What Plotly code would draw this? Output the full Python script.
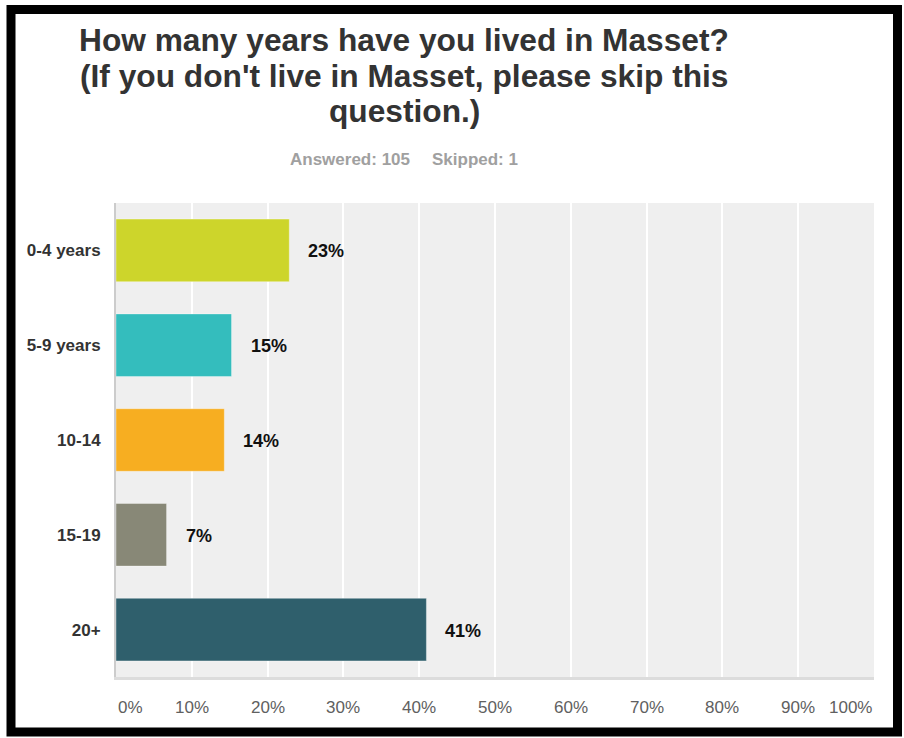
import plotly.graph_objects as go

# survey answers
categories = ["0-4 years", "5-9 years", "10-14", "15-19", "20+"]
percents = [22.86, 15.24, 14.29, 6.67, 40.95]
bar_labels = ["23%", "15%", "14%", "7%", "41%"]
colors = ["#cdd52b", "#34bdbd", "#f7ae21", "#888877", "#2f5f6c"]
tick_vals = [0, 10, 20, 30, 40, 50, 60, 70, 80, 90, 100]
tick_text = ["0%", "10%", "20%", "30%", "40%", "50%", "60%", "70%", "80%", "90%", "100%"]
title_lines = ["How many years have you lived in Masset?",
               "(If you don't live in Masset, please skip this",
               "question.)"]

W, H = 904, 738
ml, mr, mt, mb = 116, 30, 203, 61
pw, ph = W - ml - mr, H - mt - mb


def px_x(px):
    return (px - ml) / pw


def px_y(py):
    return (H - mb - py) / ph


FONT = "Liberation Sans, Arial"

fig = go.Figure()
fig.add_trace(go.Bar(
    y=categories, x=percents, orientation="h",
    marker=dict(color=colors, line=dict(color="rgba(255,255,255,0.35)", width=1)),
    hoverinfo="skip",
))

# value labels to the right of each bar
for cat, val, lab in zip(categories, percents, bar_labels):
    fig.add_annotation(x=val, y=cat, xref="x", yref="y", text="<b>" + lab + "</b>",
                       showarrow=False, xanchor="left", xshift=17, yshift=-1,
                       font=dict(family=FONT, size=18, color="#111111"))

# x tick labels (first and last kept inside the plot edges)
for v, t in zip(tick_vals, tick_text):
    anchor = "left" if v == 0 else ("right" if v == 100 else "center")
    fig.add_annotation(x=v, y=px_y(707), xref="x", yref="paper", text=t, showarrow=False,
                       xanchor=anchor, yanchor="middle",
                       font=dict(family=FONT, size=17, color="#606060"))

# title, one annotation per line
for line, yc in zip(title_lines, [40, 76, 111]):
    fig.add_annotation(x=px_x(404), y=px_y(yc), xref="paper", yref="paper",
                       text="<b>" + line + "</b>", showarrow=False,
                       xanchor="center", yanchor="middle",
                       font=dict(family=FONT, size=31.7, color="#333333"))

fig.add_annotation(x=px_x(350), y=px_y(159), xref="paper", yref="paper",
                   text="<b>Answered: 105</b>", showarrow=False, xanchor="center", yanchor="middle",
                   font=dict(family=FONT, size=17, color="#a0a0a0"))
fig.add_annotation(x=px_x(475), y=px_y(159), xref="paper", yref="paper",
                   text="<b>Skipped: 1</b>", showarrow=False, xanchor="center", yanchor="middle",
                   font=dict(family=FONT, size=17, color="#a0a0a0"))

# black frame around the whole card
fig.add_shape(type="rect", xref="paper", yref="paper",
              x0=px_x(11), x1=px_x(897.5), y0=px_y(732), y1=px_y(9.5),
              line=dict(color="#000000", width=9), fillcolor="rgba(0,0,0,0)", layer="above")

fig.update_layout(
    width=W, height=H,
    margin=dict(l=ml, r=mr, t=mt, b=mb),
    paper_bgcolor="#ffffff", plot_bgcolor="#efefef",
    showlegend=False, bargap=0.34,
    font=dict(family=FONT),
    xaxis=dict(range=[0, 100], tickvals=tick_vals, showticklabels=False,
               showgrid=True, gridcolor="#ffffff", gridwidth=2, zeroline=False,
               showline=True, linecolor="#dcdcdc", linewidth=3, fixedrange=True),
    yaxis=dict(autorange="reversed", showgrid=False, zeroline=False,
               showline=True, linecolor="#cccccc", linewidth=2,
               ticks="outside", ticklen=10, tickcolor="rgba(0,0,0,0)",
               tickfont=dict(family=FONT, size=17, color="#333333"),
               tickprefix="<b>", ticksuffix="</b>", fixedrange=True),
)

fig.write_html("out.html", config={"displayModeBar": False},
               post_script="document.body.style.margin='0';")
